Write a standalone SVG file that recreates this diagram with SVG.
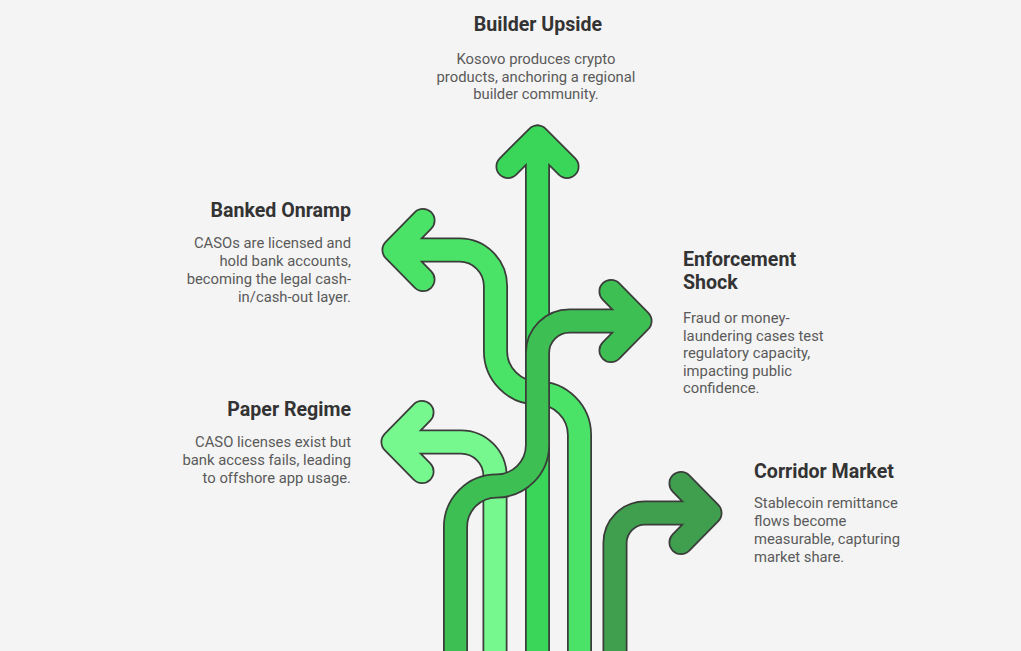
<svg xmlns="http://www.w3.org/2000/svg" xmlns:xlink="http://www.w3.org/1999/xlink" width="1021" height="651" viewBox="0 0 1021 651">
  <style>
    .outline { fill: none; stroke: #3a3d3a; stroke-width: 25; stroke-linecap: round; stroke-linejoin: round; }
    .body { fill: none; stroke-width: 21.5; stroke-linecap: round; stroke-linejoin: round; }
    .title { font-family: Roboto, "Liberation Sans", sans-serif; font-weight: 700; font-size: 19.6px; fill: #333333; }
    .desc { font-family: Roboto, "Liberation Sans", sans-serif; font-size: 14.8px; fill: #5a5a5a; }
    .end { text-anchor: end; }
    .mid { text-anchor: middle; }
  </style>
  <defs>
    <!-- centre lines of the five routes: shaft, then the chevron head -->
    <path id="route-banked" d="M579.5,665 V435 A42,42 0 0 0 537.5,393 A42,42 0 0 1 495.5,351 V286 A36,36 0 0 0 459.5,250 H394 M423,220.5 L394,250 L423,279.5"/>
    <path id="route-paper" d="M495,665 V476 A34,34 0 0 0 461,442 H393 M422,412.5 L393,442 L422,471.5"/>
    <path id="route-corridor" d="M615,665 V543 A30,30 0 0 1 645,513 H710 M681,483.5 L710,513 L681,542.5"/>
    <path id="route-builder" d="M537.5,665 V137 M508,166.5 L537.5,137 L567,166.5"/>
    <path id="route-enforcement" d="M455.5,665 V527 A41,41 0 0 1 496.5,486 A41,41 0 0 0 537.5,445 V353 A32,32 0 0 1 569.5,321 H640 M611,291.5 L640,321 L611,350.5"/>
  </defs>

  <rect x="0" y="0" width="1021" height="651" fill="#f4f4f4"/>

  <g id="banked-onramp">
    <use xlink:href="#route-banked" class="outline"/>
    <use xlink:href="#route-banked" class="body" stroke="#4ae367"/>
    <text class="title end" x="351" y="217">Banked Onramp</text>
    <text class="desc end" x="351" y="248">CASOs are licensed and</text>
    <text class="desc end" x="351" y="266">hold bank accounts,</text>
    <text class="desc end" x="351" y="284">becoming the legal cash-</text>
    <text class="desc end" x="351" y="302">in/cash-out layer.</text>
  </g>

  <g id="paper-regime">
    <use xlink:href="#route-paper" class="outline"/>
    <use xlink:href="#route-paper" class="body" stroke="#76f88e"/>
    <text class="title end" x="351" y="416">Paper Regime</text>
    <text class="desc end" x="351" y="447">CASO licenses exist but</text>
    <text class="desc end" x="351" y="465">bank access fails, leading</text>
    <text class="desc end" x="351" y="483">to offshore app usage.</text>
  </g>

  <g id="corridor-market">
    <use xlink:href="#route-corridor" class="outline"/>
    <use xlink:href="#route-corridor" class="body" stroke="#3f9f4e"/>
    <text class="title" x="754" y="478">Corridor Market</text>
    <text class="desc" x="754" y="508">Stablecoin remittance</text>
    <text class="desc" x="754" y="526">flows become</text>
    <text class="desc" x="754" y="544">measurable, capturing</text>
    <text class="desc" x="754" y="562">market share.</text>
  </g>

  <g id="builder-upside">
    <use xlink:href="#route-builder" class="outline"/>
    <use xlink:href="#route-builder" class="body" stroke="#3ad659"/>
    <text class="title mid" x="538" y="31">Builder Upside</text>
    <text class="desc mid" x="536" y="64">Kosovo produces crypto</text>
    <text class="desc mid" x="536" y="81.5">products, anchoring a regional</text>
    <text class="desc mid" x="536" y="99">builder community.</text>
  </g>

  <g id="enforcement-shock">
    <use xlink:href="#route-enforcement" class="outline"/>
    <use xlink:href="#route-enforcement" class="body" stroke="#3ebf53"/>
    <text class="title" x="683" y="266">Enforcement</text>
    <text class="title" x="683" y="289">Shock</text>
    <text class="desc" x="683" y="323">Fraud or money-</text>
    <text class="desc" x="683" y="340.5">laundering cases test</text>
    <text class="desc" x="683" y="358">regulatory capacity,</text>
    <text class="desc" x="683" y="375.5">impacting public</text>
    <text class="desc" x="683" y="393">confidence.</text>
  </g>
</svg>
